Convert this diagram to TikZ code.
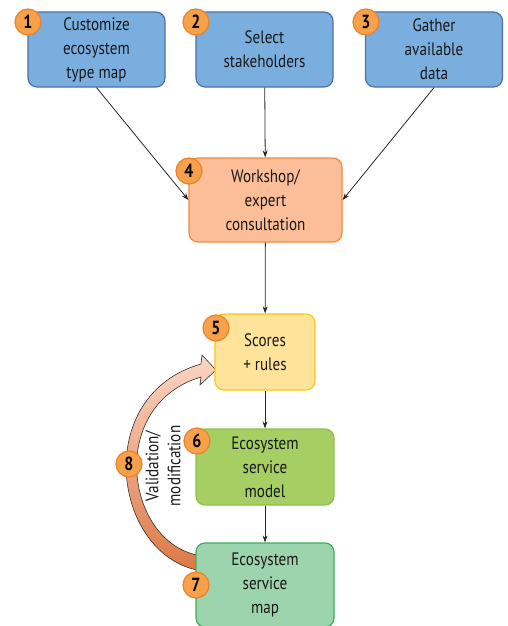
\documentclass[tikz,border=0pt]{standalone}
\usepackage{fontspec}
\setmainfont{PT Sans}[FakeStretch=0.84]
\usetikzlibrary{arrows.meta}
\definecolor{blueF}{HTML}{7AAEDE}
\definecolor{blueD}{HTML}{4D72A8}
\definecolor{peachF}{HTML}{FBBE98}
\definecolor{peachD}{HTML}{F08A3C}
\definecolor{yelF}{HTML}{FEE39B}
\definecolor{yelD}{HTML}{F8C813}
\definecolor{grnF}{HTML}{A5CF62}
\definecolor{grnD}{HTML}{8DC04A}
\definecolor{tealF}{HTML}{9CD4AD}
\definecolor{tealD}{HTML}{3BAE5F}
\definecolor{badgeF}{HTML}{F7A14B}
\definecolor{badgeD}{HTML}{E9822A}
\definecolor{arrLight}{HTML}{FBD6C4}
\definecolor{arrDark}{HTML}{DD7844}

\begin{document}
\begin{tikzpicture}[x=1pt, y=-1pt,
    box/.style={rounded corners=9pt, line width=1.2pt, align=center,
        font=\fontsize{18}{24}\selectfont, text=black!90},
    badge/.style={circle, fill=badgeF, draw=badgeD, line width=1.2pt,
        minimum size=26pt, inner sep=0pt, font=\fontsize{19}{19}\selectfont\bfseries},
    link/.style={-{Stealth[length=7pt, width=5pt]}, line width=0.8pt, black!85}]
    \useasboundingbox (0,0) rectangle (507,626);

    % the curved feedback arrow
    \draw [line width=0.6pt, black!80, top color=arrLight, bottom color=arrDark]
        (197,570) .. controls (112,552) and (92,395) .. (201,364)
        -- (202,355) -- (216,370) -- (200,385) -- (201,377)
        .. controls (107,405) and (125,540) .. (197,555) -- cycle;

    \node [box, fill=blueF, draw=blueD, minimum width=137pt, minimum height=75pt] (1) at (96.5,49.5) {Customize\\ecosystem\\type map};
    \node [box, fill=blueF, draw=blueD, minimum width=137pt, minimum height=75pt] (2) at (264.5,49.5) {Select\\stakeholders};
    \node [box, fill=blueF, draw=blueD, minimum width=137pt, minimum height=75pt] (3) at (434,49.5) {Gather\\available\\data};
    \node [box, fill=peachF, draw=peachD, minimum width=153pt, minimum height=84pt] (4) at (265.5,200) {Workshop/\\expert\\consultation};
    \node [box, fill=yelF, draw=yelD, minimum width=100pt, minimum height=76pt] (5) at (265,352) {Scores\\+ rules};
    \node [box, fill=grnF, draw=grnD, minimum width=138pt, minimum height=76pt] (6) at (265,467) {Ecosystem\\service\\model};
    \node [box, fill=tealF, draw=tealD, minimum width=138pt, minimum height=84pt] (7) at (265,585) {Ecosystem\\service\\map};

    \node [badge] (n1) at (28,22) {1};
    \node [badge] (n2) at (196,22) {2};
    \node [badge] (n3) at (366,22) {3};
    \node [badge] (n4) at (189,171) {4};
    \node [badge] (n5) at (216,328) {5};
    \node [badge] (n6) at (197,441) {6};
    \node [badge] (n7) at (196,585) {7};
    \node [badge] (n8) at (129,464) {8};

    \node [rotate=90, align=center, font=\fontsize{18}{22}\selectfont, text=black!90] (val) at (163,466) {Validation/\\modification};

    \draw [link] (1.south) -- (4.west);
    \draw [link] (2) -- (4);
    \draw [link] (3.south) -- (4.east);
    \draw [link] (4) -- (5);
    \draw [link] (5) -- (6);
    \draw [link] (6) -- (7);
\end{tikzpicture}
\end{document}
